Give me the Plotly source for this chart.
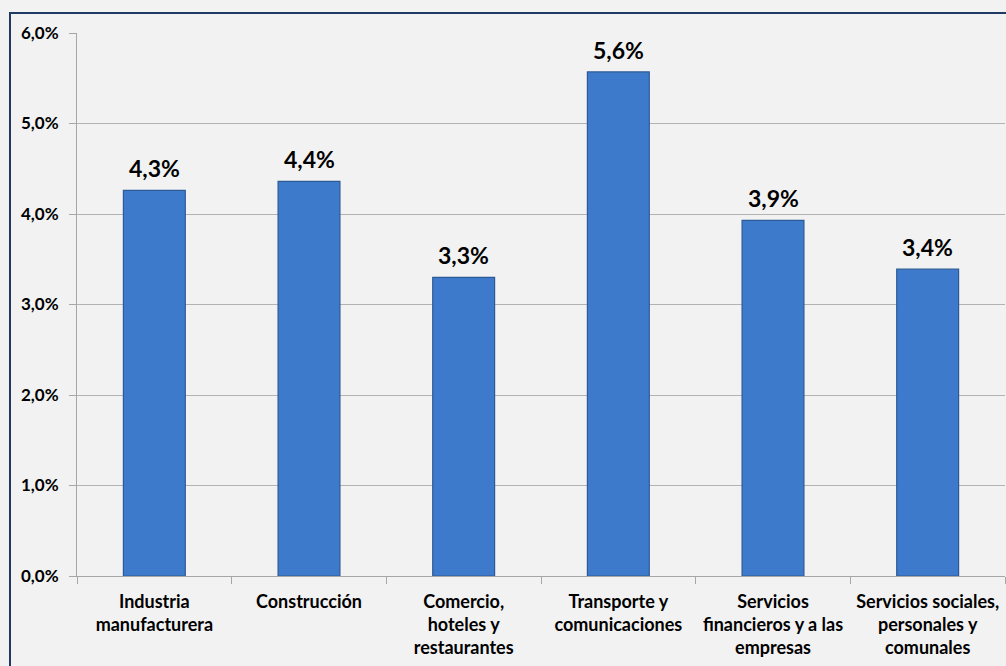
import plotly.graph_objects as go

# Sector categories (line breaks as shown under the axis)
sectors = [
    "Industria<br>manufacturera",
    "Construcción",
    "Comercio,<br>hoteles y<br>restaurantes",
    "Transporte y<br>comunicaciones",
    "Servicios<br>financieros y a las<br>empresas",
    "Servicios sociales,<br>personales y<br>comunales",
]
# Growth rates (fractions)
growth = [0.0426, 0.0436, 0.0330, 0.0557, 0.0393, 0.0339]

y_ticks = [0, 0.01, 0.02, 0.03, 0.04, 0.05, 0.06]

FONT = "Lato, 'Open Sans', sans-serif"


def pct_label(v):
    return f"{v * 100:.1f}%".replace(".", ",")


fig = go.Figure(
    go.Bar(
        x=sectors,
        y=growth,
        width=0.40,
        marker=dict(color="#3e7acb", line=dict(color="#2d5a96", width=1.2)),
        hoverinfo="skip",
    )
)

# Value labels above each bar
for s, v in zip(sectors, growth):
    fig.add_annotation(
        x=s,
        y=v,
        text=pct_label(v),
        showarrow=False,
        yanchor="bottom",
        yshift=6,
        font=dict(family=FONT, size=23, color="#000000", weight="bold"),
    )

fig.update_layout(
    width=1006,
    height=666,
    margin=dict(l=77, r=1, t=33, b=90),
    paper_bgcolor="#f2f2f2",
    plot_bgcolor="#f2f2f2",
    separators=",.",
    showlegend=False,
    font=dict(family=FONT, color="#000000"),
    xaxis=dict(
        type="category",
        tickson="boundaries",
        ticks="outside",
        ticklen=7,
        tickcolor="#a6a6a6",
        showline=True,
        linecolor="#a6a6a6",
        linewidth=1,
        showgrid=False,
        tickangle=0,
        automargin=False,
        tickfont=dict(family=FONT, size=18, color="#000000", weight="bold"),
        ticklabelstandoff=9,
        range=[-0.5, 5.5],
    ),
    yaxis=dict(
        range=[0, 0.06],
        tickvals=y_ticks,
        tickformat=".1%",
        ticks="outside",
        ticklen=7,
        tickcolor="#a6a6a6",
        showline=True,
        linecolor="#a6a6a6",
        linewidth=1,
        showgrid=True,
        gridcolor="#b3b3b3",
        gridwidth=1,
        zeroline=False,
        automargin=False,
        tickfont=dict(family=FONT, size=17, color="#000000", weight="bold"),
        ticklabelstandoff=7,
    ),
    shapes=[
        dict(
            type="rect",
            xref="paper",
            yref="paper",
            x0=-0.0722,
            x1=1.05,
            y0=-0.3,
            y1=1.0368,
            line=dict(color="#1f3a64", width=2),
            fillcolor="rgba(0,0,0,0)",
            layer="above",
        )
    ],
)

fig.write_html("out.html")
